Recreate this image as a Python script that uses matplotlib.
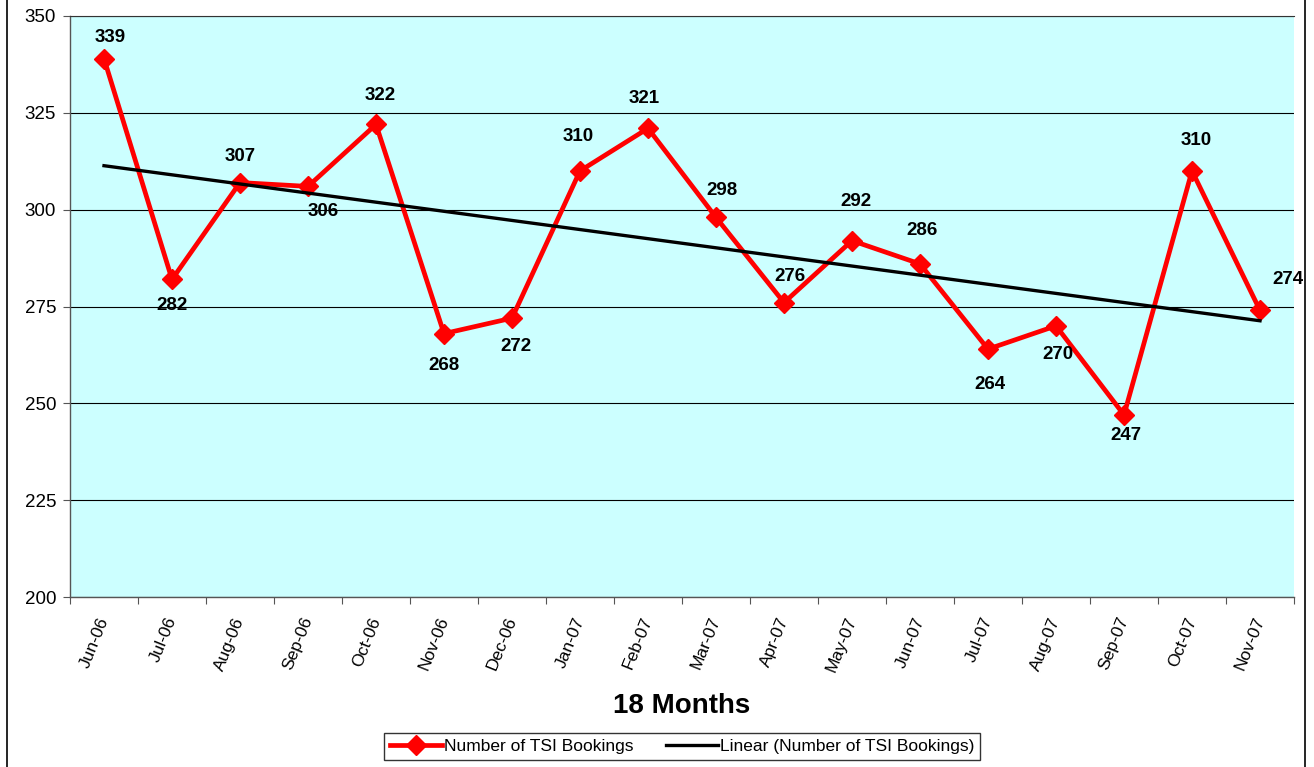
import matplotlib
matplotlib.use("Agg")
import matplotlib.pyplot as plt
from matplotlib.lines import Line2D
import numpy as np

months = ["Jun-06", "Jul-06", "Aug-06", "Sep-06", "Oct-06", "Nov-06", "Dec-06",
          "Jan-07", "Feb-07", "Mar-07", "Apr-07", "May-07", "Jun-07", "Jul-07",
          "Aug-07", "Sep-07", "Oct-07", "Nov-07"]
bookings = [339, 282, 307, 306, 322, 268, 272, 310, 321, 298, 276, 292, 286,
            264, 270, 247, 310, 274]
y_ticks = [200, 225, 250, 275, 300, 325, 350]

# label offsets in pixels (dx, dy), dy positive = up
label_offsets = [(6, 21), (0, -26), (0, 26), (15, -25), (4, 29), (0, -32),
                 (4, -28), (-2, 34), (-4, 30), (6, 27), (6, 26), (4, 39),
                 (2, 33), (2, -35), (2, -29), (2, -21), (4, 30), (28, 31)]

plt.rcParams['font.family'] = ['Liberation Sans', 'DejaVu Sans']

fig = plt.figure(figsize=(13.14, 7.67), dpi=100)
ax = fig.add_axes([70/1314, 1-597/767, (1294-70)/1314, (597-16)/767])
ax.set_facecolor('#CCFFFF')

x = np.arange(len(months))
ax.set_xlim(-0.5, len(months) - 0.5)
ax.set_ylim(200, 350)
ax.set_yticks(y_ticks)
ax.yaxis.grid(True, color='black', linewidth=0.8)
ax.set_axisbelow(True)

# trend
coef = np.polyfit(x, bookings, 1)
trend = np.polyval(coef, x)

ax.plot(x, bookings, color='#FF0000', linewidth=3.4, marker='D',
        markersize=10, markeredgecolor='#FF0000', zorder=3,
        label='Number of TSI Bookings')
ax.plot(x, trend, color='black', linewidth=2.4, zorder=4,
        label='Linear (Number of TSI Bookings)')

for xi, v, (dx, dy) in zip(x, bookings, label_offsets):
    ax.annotate(str(v), (xi, v), xytext=(dx, dy), textcoords='offset pixels',
                ha='center', va='center', fontsize=13.5, fontweight='bold',
                color='black', zorder=5)

# category ticks at boundaries
ax.set_xticks(np.arange(-0.5, len(months), 1.0))
ax.set_xticklabels([])
ax.tick_params(axis='x', length=5, color='#555555', direction='out')
ax.set_xticks(x, minor=True)
ax.set_xticklabels(months, minor=True, rotation=68, ha='right', va='center',
                   rotation_mode='anchor', fontsize=12.5)
ax.tick_params(axis='x', which='minor', length=0, pad=15)
ax.tick_params(axis='y', length=5, color='#555555', labelsize=13.5, pad=5)

for s in ['left', 'bottom']:
    ax.spines[s].set_color('#555555')
    ax.spines[s].set_linewidth(1.0)
ax.spines['top'].set_color('#333333')
ax.spines['top'].set_linewidth(0.8)
ax.spines['right'].set_visible(False)

fig.text(682/1314, 1-706/767, '18 Months', ha='center', va='center',
         fontsize=20, fontweight='bold')

leg = fig.legend(loc='center', bbox_to_anchor=(682/1314, 1-746.5/767),
                 ncol=2, frameon=True, fancybox=False, fontsize=12.5,
                 edgecolor='black', handlelength=3.0, handletextpad=0.1,
                 columnspacing=1.9, borderpad=0.35)
leg.get_frame().set_linewidth(1.0)

# outer chart border (left and right)
fig.add_artist(Line2D([7/1314, 7/1314], [0, 1], color='black', linewidth=1.2,
                      transform=fig.transFigure))
fig.add_artist(Line2D([1305/1314, 1305/1314], [0, 1], color='black',
                      linewidth=1.2, transform=fig.transFigure))

fig.savefig('out.png', dpi=100)
